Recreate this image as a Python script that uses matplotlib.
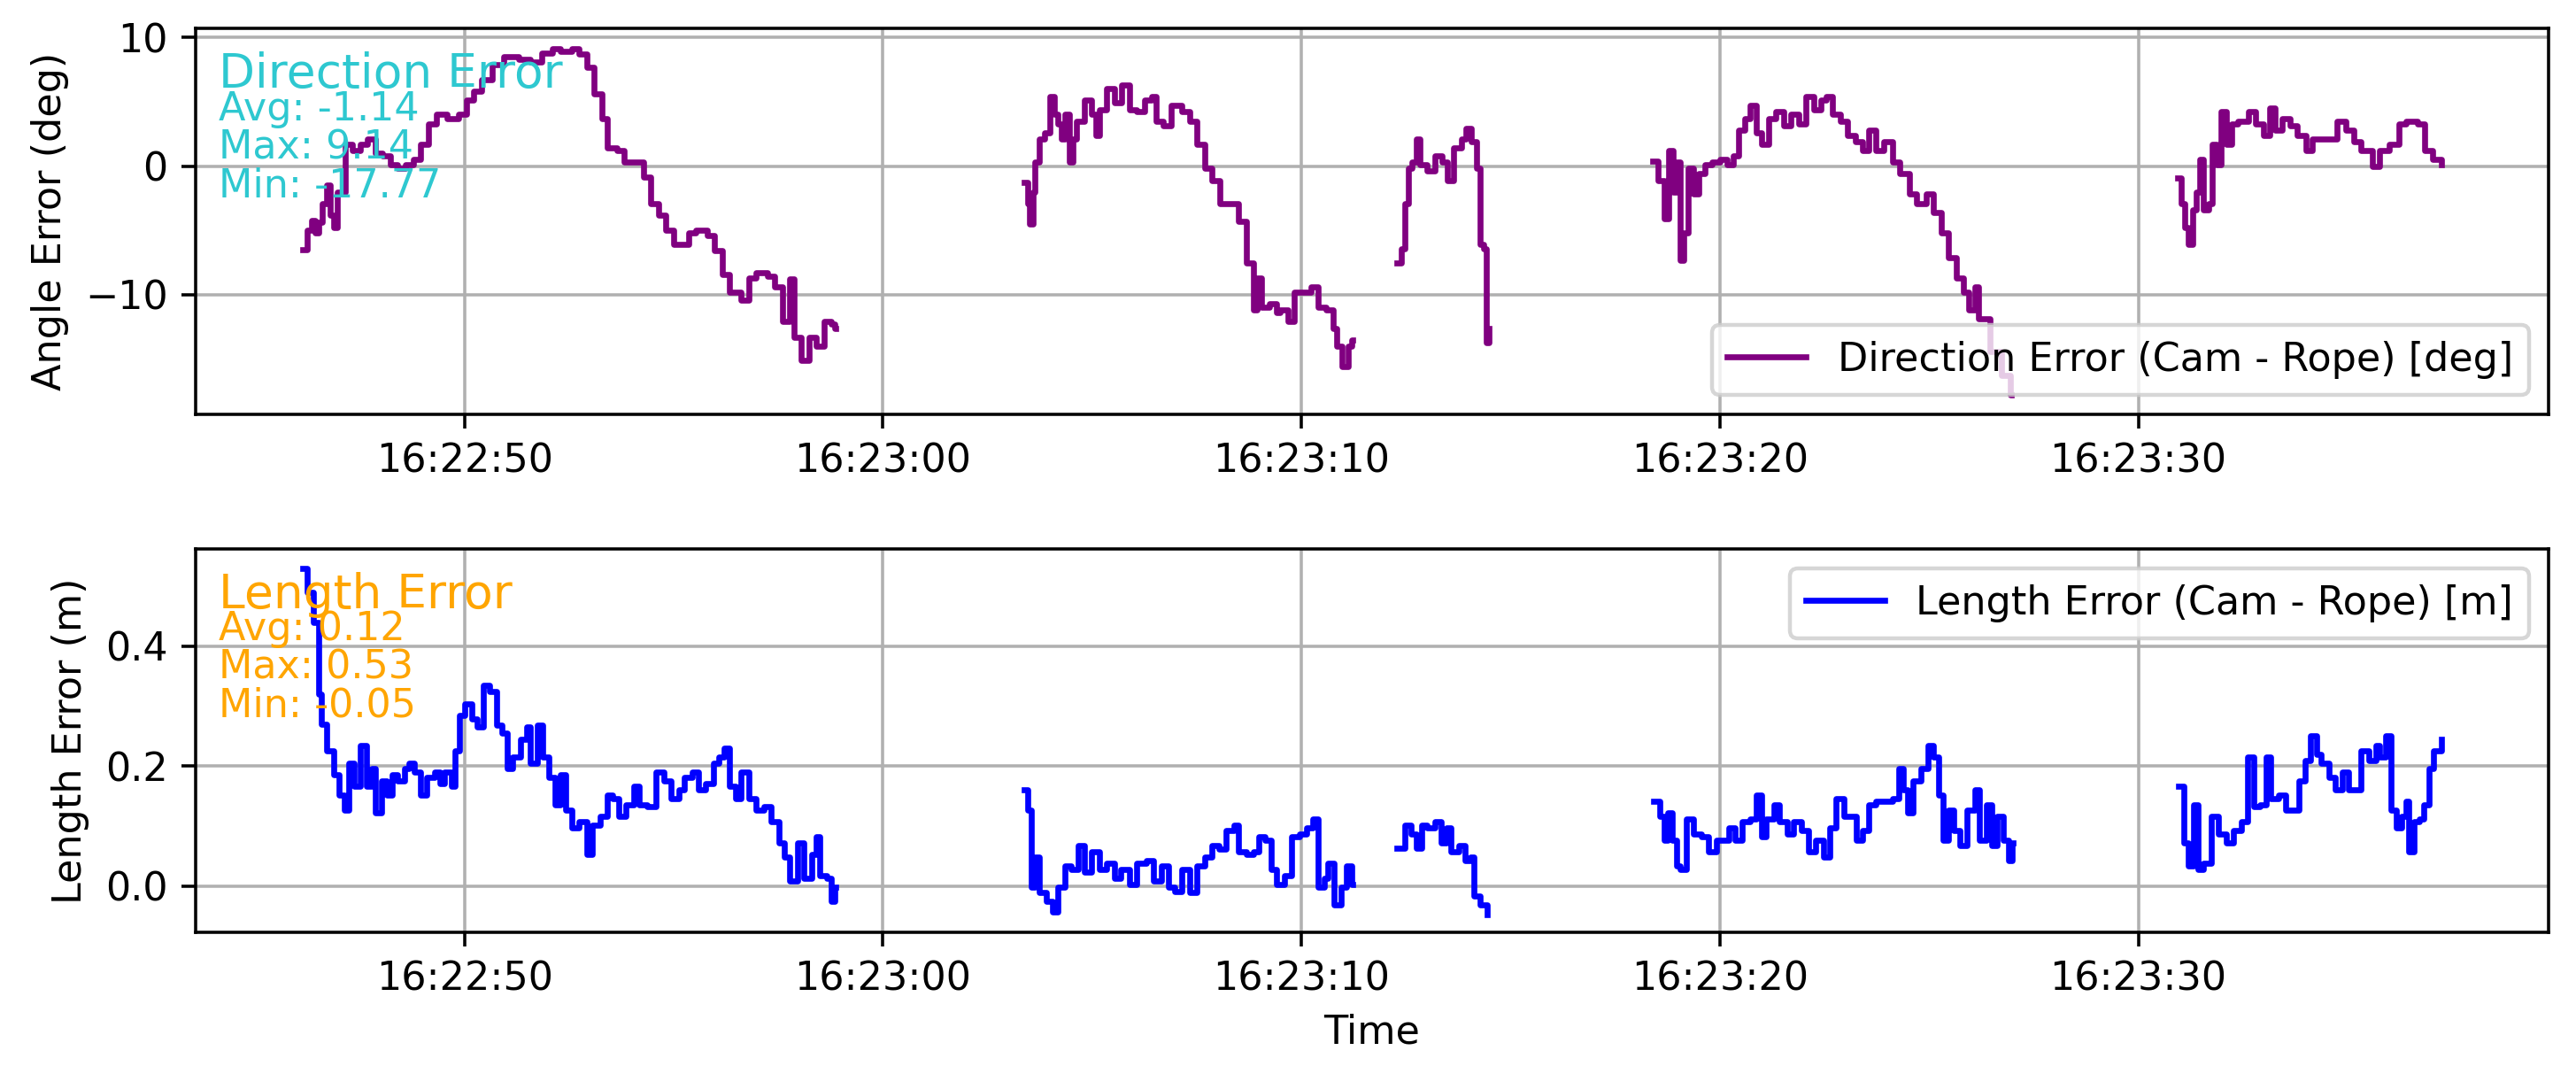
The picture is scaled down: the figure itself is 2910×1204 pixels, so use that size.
import numpy as np
import pandas as pd
import matplotlib
matplotlib.use("Agg")
import matplotlib.pyplot as plt
import matplotlib.dates as mdates

# seconds after 16:22:00, one list per recorded segment
dir_t = [
    [46.13, 46.25, 46.34, 46.43, 46.52, 46.61, 46.70, 46.79, 46.88, 46.97, 47.15, 47.33, 47.51, 47.69,
     47.87, 48.05, 48.23, 48.41, 48.59, 48.77, 48.95, 49.14, 49.32, 49.59, 49.86, 50.04, 50.22, 50.40,
     50.67, 50.94, 51.30, 51.57, 51.84, 52.11, 52.29, 52.56, 52.74, 52.92, 53.10, 53.28, 53.42, 53.64,
     53.82, 54.09, 54.27, 54.45, 54.63, 54.81, 54.99, 55.26, 55.35, 55.53, 55.80, 55.98, 56.16, 56.34,
     56.61, 56.79, 56.97, 57.24, 57.42, 57.60, 57.78, 57.87, 58.05, 58.23, 58.41, 58.59, 58.77, 58.86],
    [63.37, 63.46, 63.51, 63.59, 63.64, 63.73, 63.87, 64.00, 64.09, 64.18, 64.27, 64.36, 64.45, 64.54,
     64.63, 64.81, 64.99, 65.08, 65.17, 65.35, 65.53, 65.71, 65.89, 66.07, 66.25, 66.43, 66.52, 66.70,
     66.88, 67.15, 67.33, 67.51, 67.69, 67.87, 68.05, 68.32, 68.50, 68.68, 68.86, 68.95, 69.05, 69.23,
     69.41, 69.50, 69.68, 69.82, 70.04, 70.22, 70.40, 70.58, 70.76, 70.85, 70.97, 71.12, 71.21],
    [72.29, 72.38, 72.47, 72.56, 72.65, 72.74, 72.83, 73.01, 73.19, 73.37, 73.49, 73.64, 73.82, 73.94,
     74.05, 74.18, 74.27, 74.35, 74.41, 74.48],
    [78.39, 78.53, 78.66, 78.78, 78.89, 78.96, 79.05, 79.14, 79.25, 79.37, 79.50, 79.64, 79.82, 80.00,
     80.18, 80.32, 80.45, 80.59, 80.72, 80.86, 80.99, 81.16, 81.34, 81.52, 81.70, 81.88, 82.06, 82.24,
     82.42, 82.54, 82.69, 82.87, 83.05, 83.23, 83.41, 83.55, 83.73, 83.91, 84.12, 84.30, 84.52, 84.70,
     84.93, 85.11, 85.29, 85.47, 85.65, 85.82, 85.95, 86.09, 86.18, 86.45, 86.72, 86.95],
    [90.93, 91.02, 91.11, 91.20, 91.29, 91.38, 91.47, 91.56, 91.68, 91.77, 91.86, 91.97, 92.10, 92.22,
     92.37, 92.54, 92.63, 92.81, 92.99, 93.14, 93.26, 93.44, 93.62, 93.80, 94.01, 94.16, 94.34, 94.52,
     94.75, 94.96, 95.14, 95.32, 95.59, 95.77, 95.99, 96.22, 96.40, 96.67, 96.85, 97.03, 97.24],
]
dir_v = [
    [-6.5, -5.0, -4.2, -5.2, -4.4, -2.9, -1.5, -3.8, -4.8, -2.0, 1.7, 1.2, 1.7, 2.1,
     1.0, 0.8, 0.1, -0.2, 0.1, 0.5, 1.7, 3.3, 4.0, 3.7, 4.0, 5.1, 5.8, 6.7,
     7.9, 8.5, 8.3, 8.1, 8.8, 9.14, 8.9, 9.1, 8.7, 7.7, 5.6, 3.7, 1.4, 1.2,
     0.3, 0.3, -0.85, -2.9, -3.8, -5.0, -6.1, -6.1, -5.2, -5.0, -5.4, -6.6, -8.4, -9.8,
     -10.4, -8.7, -8.3, -8.6, -9.4, -12.1, -8.8, -13.3, -15.1, -13.3, -14.0, -12.1, -12.3, -12.6],
    [-1.3, -2.9, -4.5, -2.0, 0.3, 2.1, 2.6, 5.4, 4.0, 3.3, 2.1, 4.0, 0.3, 2.1,
     3.5, 5.1, 4.0, 2.4, 4.4, 6.0, 4.9, 6.3, 4.4, 4.2, 5.1, 5.4, 3.5, 3.1,
     4.7, 4.2, 3.5, 1.7, -0.2, -1.1, -2.9, -2.9, -4.3, -7.5, -11.2, -8.7, -11.0, -10.7,
     -11.4, -11.2, -12.1, -9.8, -9.8, -9.4, -11.0, -11.2, -12.6, -14.0, -15.6, -14.0, -13.5],
    [-7.5, -6.4, -2.9, -0.2, 0.3, 2.1, 0.1, -0.4, 0.8, 0.3, -1.1, 1.4, 2.1, 2.9,
     1.9, -0.2, -6.1, -6.4, -13.7, -12.6],
    [0.4, -1.1, -4.1, 1.2, -2.0, 0.3, -7.3, -5.2, -0.2, -2.2, -0.6, 0.1, 0.3, 0.5,
     0.1, 0.8, 2.8, 3.7, 4.7, 2.6, 1.7, 3.7, 4.2, 3.1, 4.0, 3.3, 5.4, 4.4,
     5.1, 5.4, 4.0, 3.5, 2.4, 1.9, 1.2, 2.8, 1.2, 1.9, 0.3, -0.6, -2.2, -2.9,
     -2.2, -3.6, -5.2, -7.1, -8.7, -9.8, -11.2, -9.4, -11.9, -14.4, -16.3, -17.77],
    [-0.9, -2.9, -4.8, -6.1, -3.4, -2.0, 0.5, -3.4, -2.9, 1.7, 0.1, 4.2, 1.7, 3.3,
     3.5, 3.5, 4.2, 3.3, 2.4, 4.5, 2.8, 3.7, 3.1, 2.4, 1.2, 2.1, 2.1, 2.1,
     3.5, 2.8, 1.9, 1.2, 0.0, 1.2, 1.7, 3.3, 3.5, 3.3, 1.2, 0.5, 0.1],
]

len_t = [
    [46.13, 46.25, 46.40, 46.52, 46.58, 46.70, 46.88, 47.01, 47.12, 47.24, 47.37, 47.51, 47.66, 47.78,
     47.87, 48.02, 48.14, 48.27, 48.41, 48.56, 48.68, 48.81, 48.95, 49.10, 49.28, 49.41, 49.53, 49.68,
     49.77, 49.89, 50.00, 50.18, 50.31, 50.45, 50.61, 50.76, 50.90, 51.03, 51.15, 51.33, 51.48, 51.57,
     51.75, 51.87, 52.02, 52.16, 52.29, 52.42, 52.56, 52.74, 52.92, 53.06, 53.24, 53.42, 53.55, 53.68,
     53.86, 54.04, 54.18, 54.36, 54.58, 54.76, 54.94, 55.12, 55.26, 55.44, 55.59, 55.77, 55.95, 56.07,
     56.20, 56.34, 56.49, 56.61, 56.79, 56.97, 57.15, 57.33, 57.51, 57.64, 57.78, 57.96, 58.11, 58.29,
     58.41, 58.50, 58.65, 58.77, 58.86],
    [63.37, 63.46, 63.55, 63.64, 63.73, 63.91, 64.05, 64.18, 64.36, 64.49, 64.67, 64.81, 64.99, 65.17,
     65.35, 65.53, 65.68, 65.89, 66.07, 66.29, 66.47, 66.65, 66.83, 66.97, 67.15, 67.33, 67.51, 67.69,
     67.87, 68.02, 68.20, 68.38, 68.50, 68.68, 68.86, 68.99, 69.14, 69.28, 69.41, 69.59, 69.77, 69.95,
     70.13, 70.27, 70.40, 70.54, 70.63, 70.79, 70.94, 71.08, 71.21],
    [72.29, 72.47, 72.62, 72.74, 72.87, 73.01, 73.19, 73.33, 73.46, 73.58, 73.76, 73.91, 74.03, 74.12,
     74.27, 74.44],
    [78.42, 78.57, 78.66, 78.75, 78.87, 78.96, 79.05, 79.19, 79.37, 79.55, 79.73, 79.91, 80.09, 80.22,
     80.36, 80.54, 80.72, 80.86, 80.99, 81.11, 81.29, 81.43, 81.61, 81.76, 81.94, 82.11, 82.29, 82.47,
     82.62, 82.78, 82.96, 83.14, 83.26, 83.41, 83.55, 83.73, 83.94, 84.12, 84.27, 84.39, 84.48, 84.62,
     84.80, 84.98, 85.11, 85.23, 85.34, 85.47, 85.59, 85.73, 85.91, 86.09, 86.20, 86.36, 86.49, 86.63,
     86.77, 86.90, 86.99],
    [90.97, 91.08, 91.20, 91.33, 91.43, 91.56, 91.74, 91.92, 92.10, 92.28, 92.46, 92.60, 92.76, 92.90,
     93.05, 93.17, 93.35, 93.53, 93.71, 93.84, 93.98, 94.12, 94.25, 94.37, 94.55, 94.70, 94.87, 95.02,
     95.23, 95.32, 95.50, 95.68, 95.77, 95.91, 96.04, 96.16, 96.29, 96.40, 96.45, 96.58, 96.71, 96.82,
     96.94, 97.06, 97.24],
]
len_v = [
    [0.53, 0.49, 0.44, 0.32, 0.27, 0.225, 0.186, 0.151, 0.127, 0.205, 0.166, 0.235, 0.166, 0.196,
     0.122, 0.176, 0.151, 0.186, 0.176, 0.196, 0.205, 0.19, 0.151, 0.181, 0.19, 0.171, 0.19, 0.166,
     0.225, 0.284, 0.304, 0.279, 0.265, 0.335, 0.324, 0.269, 0.255, 0.196, 0.215, 0.245, 0.265, 0.205,
     0.269, 0.215, 0.181, 0.136, 0.186, 0.127, 0.097, 0.107, 0.053, 0.102, 0.117, 0.151, 0.146, 0.117,
     0.136, 0.166, 0.136, 0.132, 0.19, 0.176, 0.146, 0.161, 0.181, 0.19, 0.161, 0.171, 0.205, 0.215,
     0.23, 0.166, 0.146, 0.19, 0.146, 0.127, 0.132, 0.107, 0.072, 0.048, 0.008, 0.072, 0.013, 0.053,
     0.082, 0.018, 0.013, -0.026, -0.001],
    [0.161, 0.127, -0.001, 0.048, -0.011, -0.026, -0.043, -0.001, 0.033, 0.028, 0.067, 0.023, 0.058, 0.028,
     0.038, 0.013, 0.028, 0.003, 0.038, 0.043, 0.008, 0.033, -0.001, -0.009, 0.028, -0.011, 0.033, 0.048,
     0.067, 0.062, 0.092, 0.102, 0.058, 0.053, 0.058, 0.082, 0.077, 0.028, 0.003, 0.018, 0.082, 0.087,
     0.097, 0.112, -0.001, 0.013, 0.038, -0.031, -0.001, 0.033, 0.003],
    [0.063, 0.102, 0.087, 0.063, 0.102, 0.097, 0.107, 0.072, 0.097, 0.058, 0.067, 0.043, 0.048, -0.016,
     -0.031, -0.048],
    [0.141, 0.117, 0.077, 0.122, 0.077, 0.033, 0.028, 0.112, 0.087, 0.082, 0.058, 0.077, 0.077, 0.097,
     0.077, 0.107, 0.112, 0.151, 0.082, 0.112, 0.136, 0.107, 0.087, 0.107, 0.092, 0.058, 0.077, 0.048,
     0.097, 0.146, 0.117, 0.117, 0.077, 0.092, 0.136, 0.141, 0.141, 0.146, 0.196, 0.161, 0.122, 0.176,
     0.196, 0.235, 0.215, 0.151, 0.077, 0.127, 0.092, 0.067, 0.127, 0.161, 0.077, 0.136, 0.067, 0.117,
     0.077, 0.043, 0.072],
    [0.166, 0.072, 0.033, 0.136, 0.028, 0.038, 0.117, 0.087, 0.072, 0.092, 0.107, 0.215, 0.132, 0.136,
     0.215, 0.146, 0.151, 0.127, 0.127, 0.176, 0.21, 0.25, 0.22, 0.205, 0.181, 0.161, 0.19, 0.161,
     0.161, 0.225, 0.21, 0.235, 0.215, 0.25, 0.127, 0.097, 0.117, 0.141, 0.058, 0.107, 0.112, 0.136,
     0.196, 0.225, 0.245],
]

dir_stats = ["Avg: -1.14", "Max: 9.14", "Min: -17.77"]
len_stats = ["Avg: 0.12", "Max: 0.53", "Min: -0.05"]

base = pd.Timestamp("2024-01-01 16:22:00")


def join_segments(seg_t, seg_v):
    ts, vs = [], []
    for t, v in zip(seg_t, seg_v):
        ts += list(t) + [t[-1] + 0.01]
        vs += list(v) + [np.nan]
    return base + pd.to_timedelta(ts, unit="s"), np.array(vs)


dpi = 320
fig = plt.figure(figsize=(2910 / dpi, 1204 / dpi), dpi=dpi)
ax1 = fig.add_axes([0.0759, 0.6113, 0.9135, 0.3621])
ax2 = fig.add_axes([0.0759, 0.1254, 0.9135, 0.3597], sharex=ax1)

t1, v1 = join_segments(dir_t, dir_v)
ax1.plot(t1, v1, color="purple", drawstyle="steps-post",
         label="Direction Error (Cam - Rope) [deg]")
ax1.set_ylabel("Angle Error (deg)")
ax1.set_ylim(-19.3, 10.7)
ax1.grid(True)
ax1.legend(loc="lower right")
ax1.text(0.01, 0.94, "Direction Error", transform=ax1.transAxes, fontsize=12,
         color="#2ec8d0", va="top")
for i, s in enumerate(dir_stats):
    ax1.text(0.01, 0.84 - 0.1 * i, s, transform=ax1.transAxes, fontsize=10,
             color="#2ec8d0", va="top")

t2, v2 = join_segments(len_t, len_v)
ax2.plot(t2, v2, color="blue", drawstyle="steps-post",
         label="Length Error (Cam - Rope) [m]")
ax2.set_ylabel("Length Error (m)")
ax2.set_xlabel("Time")
ax2.set_ylim(-0.077, 0.562)
ax2.grid(True)
ax2.legend(loc="upper right")
ax2.text(0.01, 0.94, "Length Error", transform=ax2.transAxes, fontsize=12,
         color="orange", va="top")
for i, s in enumerate(len_stats):
    ax2.text(0.01, 0.84 - 0.1 * i, s, transform=ax2.transAxes, fontsize=10,
             color="orange", va="top")

for ax in (ax1, ax2):
    ax.xaxis.set_major_locator(mdates.SecondLocator(bysecond=range(0, 60, 10)))
    ax.xaxis.set_major_formatter(mdates.DateFormatter("%H:%M:%S"))

fig.savefig("out.png", dpi=dpi)
